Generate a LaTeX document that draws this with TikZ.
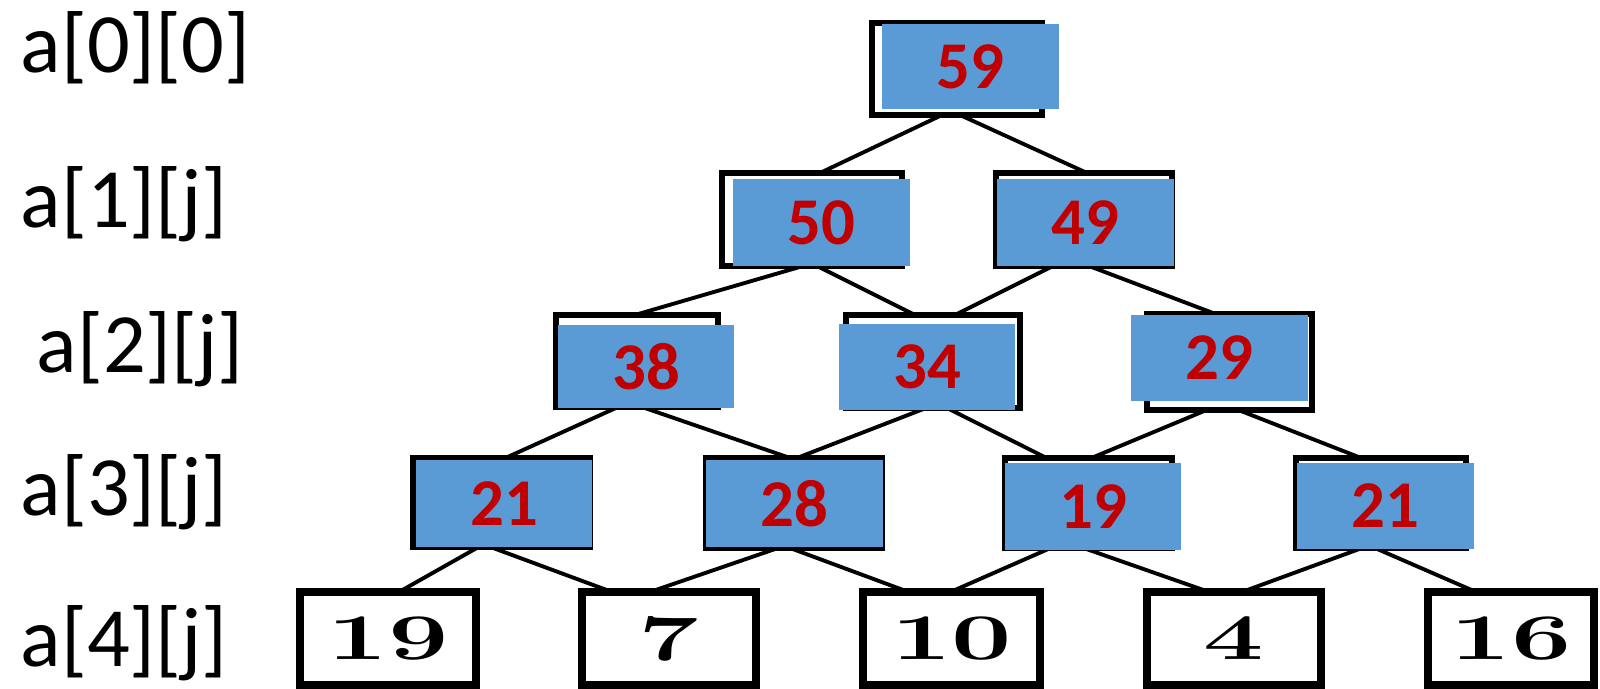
\documentclass[tikz,border=0pt]{standalone}
\usepackage{fontspec}
\usepackage{graphicx}
\newfontfamily\calibri{Carlito}
\usetikzlibrary{calc}
\definecolor{boxblue}{HTML}{5B9BD5}
\definecolor{numred}{HTML}{C00000}

% box given by its left, top, right and bottom edges (in pixel units)
\newcommand\pxbox[7]{%
  \pgfmathsetmacro\pxX{(#3+#5)/2}%
  \pgfmathsetmacro\pxY{(#4+#6)/2}%
  \pgfmathsetmacro\pxW{(#5-#3)/100}%
  \pgfmathsetmacro\pxH{(#6-#4)/100}%
  \node[#2, minimum width=\pxW cm, minimum height=\pxH cm] (#1) at (\pxX,\pxY) {#7};}
\newcommand\wide[1]{\scalebox{1.65}[1]{#1}}

\begin{document}
\begin{tikzpicture}[x=0.01cm, y=-0.01cm,
  frame/.style={draw=black, line width=1.8pt, fill=white, inner sep=0pt, outer sep=0pt},
  leaf/.style={draw=black, line width=2.1pt, fill=white, inner sep=0pt, outer sep=0pt,
    font=\bfseries\fontsize{18.5}{18.5}\selectfont},
  cell/.style={fill=boxblue, inner sep=0pt, outer sep=0pt, text=numred,
    font=\calibri\bfseries\fontsize{19}{19}\selectfont},
  conn/.style={line width=1.1pt, black},
  rowlabel/.style={anchor=west, inner sep=0pt, font=\calibri\fontsize{24}{24}\selectfont}]
\useasboundingbox[fill=white] (0,0) rectangle (1600,689);

% row labels
\node[rowlabel] (lab0) at (20,48)  {a[0][0]};
\node[rowlabel] (lab1) at (20,204) {a[1][j]};
\node[rowlabel] (lab2) at (36,349) {a[2][j]};
\node[rowlabel] (lab3) at (20,492) {a[3][j]};
\node[rowlabel] (lab4) at (20,643) {a[4][j]};

% outlined boxes of the triangle
\pxbox{b00}{frame}{872}{23}{1042}{115}{}
\pxbox{b10}{frame}{722}{173}{902}{266}{}
\pxbox{b11}{frame}{996}{173}{1172}{266}{}
\pxbox{b20}{frame}{556}{315}{718}{407}{}
\pxbox{b21}{frame}{846}{315}{1020}{408}{}
\pxbox{b22}{frame}{1147}{314}{1312}{410}{}
\pxbox{b30}{frame}{413}{458}{590}{547}{}
\pxbox{b31}{frame}{706}{458}{882}{548}{}
\pxbox{b32}{frame}{1005}{458}{1172}{548}{}
\pxbox{b33}{frame}{1296}{458}{1466}{548}{}

% bottom row
\pxbox{l0}{leaf}{300}{592}{476}{685}{\wide{19}}
\pxbox{l1}{leaf}{582}{592}{756}{685}{\wide{7}}
\pxbox{l2}{leaf}{863}{592}{1040}{685}{\wide{10}}
\pxbox{l3}{leaf}{1147}{592}{1321}{685}{\wide{4}}
\pxbox{l4}{leaf}{1428}{592}{1594}{685}{\wide{16}}

% links between rows
\draw[conn] ($(b00.south)+(-15,0)$) -- ($(b10.north)+(8,0)$);
\draw[conn] ($(b00.south)+(3,0)$)   -- ($(b11.north)+(3,0)$);
\draw[conn] ($(b10.south)+(-9,0)$)  -- ($(b20.north)+(-2,0)$);
\draw[conn] ($(b10.south)+(5,0)$)   -- ($(b21.north)+(-18,0)$);
\draw[conn] ($(b11.south)+(-31,0)$) -- ($(b21.north)+(22,0)$);
\draw[conn] ($(b11.south)+(5,0)$)   -- ($(b22.north)+(-14,0)$);
\draw[conn] ($(b20.south)+(-19,0)$) -- ($(b30.north)+(4,0)$);
\draw[conn] ($(b20.south)+(5,0)$)   -- ($(b31.north)+(-4,0)$);
\draw[conn] ($(b21.south)+(-7,0)$)  -- ($(b31.north)+(3,0)$);
\draw[conn] ($(b21.south)+(14,0)$)  -- ($(b32.north)+(-42,0)$);
\draw[conn] ($(b22.south)+(-23,0)$) -- ($(b32.north)+(3,0)$);
\draw[conn] ($(b22.south)+(9,0)$)   -- ($(b33.north)+(-20,0)$);
\draw[conn] ($(b30.south)+(-23,0)$) -- ($(l0.north)+(11,0)$);
\draw[conn] ($(b30.south)+(-11,0)$) -- ($(l1.north)+(-57,0)$);
\draw[conn] ($(b31.south)+(-16,0)$) -- ($(l1.north)+(-19,0)$);
\draw[conn] ($(b31.south)+(-4,0)$)  -- ($(l2.north)+(-43,0)$);
\draw[conn] ($(b32.south)+(-38,0)$) -- ($(l2.north)+(-1,0)$);
\draw[conn] ($(b32.south)+(-5,0)$)  -- ($(l3.north)+(-25,0)$);
\draw[conn] ($(b33.south)+(-19,0)$) -- ($(l3.north)+(8,0)$);
\draw[conn] ($(b33.south)+(-6,0)$)  -- ($(l4.north)+(-35,0)$);

% filled value boxes
\pxbox{v00}{cell}{882}{24}{1059}{109}{59}
\pxbox{v10}{cell}{733}{179}{910}{266}{50}
\pxbox{v11}{cell}{997}{179}{1174}{266}{49}
\pxbox{v20}{cell}{558}{325}{734}{408}{38}
\pxbox{v21}{cell}{839}{324}{1015}{410}{34}
\pxbox{v22}{cell}{1131}{315}{1308}{401}{29}
\pxbox{v30}{cell}{416}{460}{592}{547}{21}
\pxbox{v31}{cell}{706}{460}{883}{547}{28}
\pxbox{v32}{cell}{1005}{463}{1181}{550}{19}
\pxbox{v33}{cell}{1297}{463}{1474}{549}{21}
\end{tikzpicture}
\end{document}
